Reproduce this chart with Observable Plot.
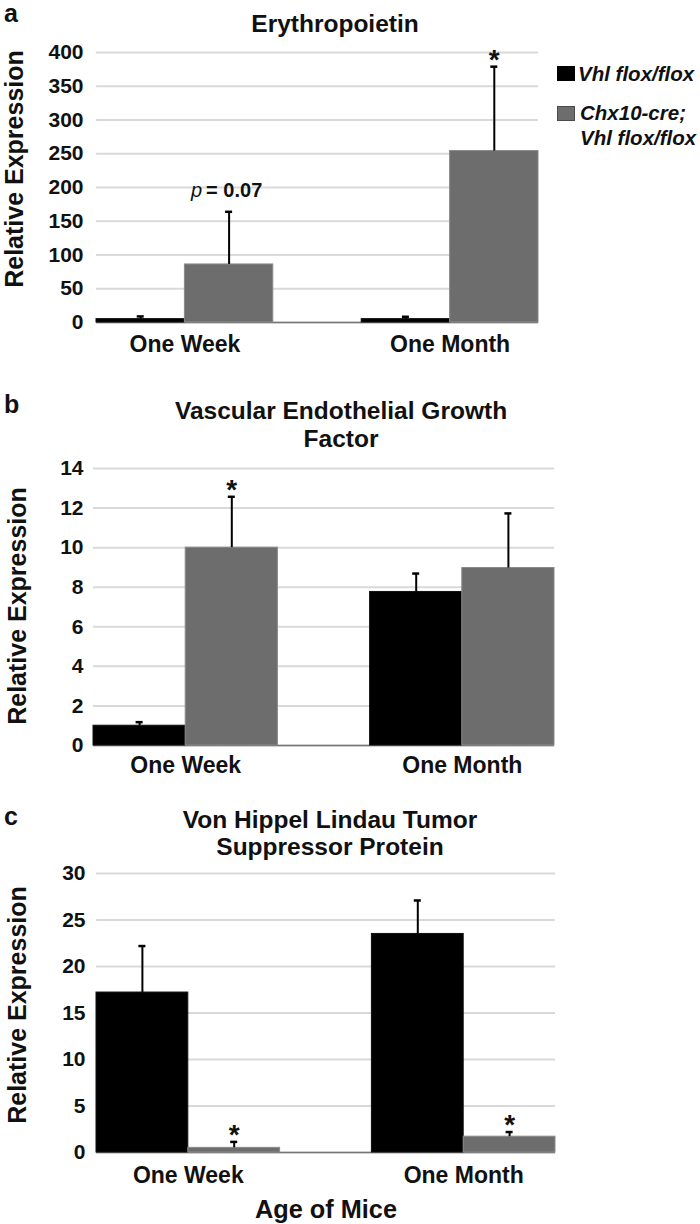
<!DOCTYPE html>
<html>
<head>
<meta charset="utf-8">
<script src="https://cdn.jsdelivr.net/npm/d3@7"></script>
<script src="https://cdn.jsdelivr.net/npm/@observablehq/plot@0.6"></script>
<style>
  html, body { margin: 0; padding: 0; background: #fff; }
  #wrap { position: relative; width: 700px; height: 1224px; overflow: hidden; font-family: "Liberation Sans", Arial, sans-serif; color: #111; }
  .abs { position: absolute; white-space: nowrap; }
  .panel { position: absolute; left: 0; }
  .letter { font-weight: bold; font-size: 25px; line-height: 1; }
  .title { font-weight: bold; font-size: 24.5px; text-align: center; transform: translateX(-50%); }
  .ylab { font-weight: bold; font-size: 25px; line-height: 1; transform: translate(-50%, -50%) rotate(-90deg); }
  .leg { font-weight: bold; font-style: italic; font-size: 20.5px; line-height: 1; }
  .sw { position: absolute; width: 18px; height: 15px; box-sizing: border-box; }
</style>
</head>
<body>
<div id="wrap"></div>
<script>
// ---------- data ----------
const categories = ["One Week", "One Month"];
const seriesNames = ["Vhl flox/flox", "Chx10-cre; Vhl flox/flox"];

// Panel a: Erythropoietin
const epoVhl = [5, 5];
const epoVhlErr = [4, 3.5];
const epoChx = [86, 254];
const epoChxErr = [78, 125];
const epoChxNotes = ["p = 0.07", "*"];
const epoTicks = [0, 50, 100, 150, 200, 250, 300, 350, 400];

// Panel b: VEGF
const vegfVhl = [1.0, 7.76];
const vegfVhlErr = [0.18, 0.93];
const vegfChx = [10.0, 8.97];
const vegfChxErr = [2.57, 2.76];
const vegfChxNotes = ["*", ""];
const vegfTicks = [0, 2, 4, 6, 8, 10, 12, 14];

// Panel c: VHL protein
const vhlVhl = [17.2, 23.5];
const vhlVhlErr = [5.0, 3.6];
const vhlChx = [0.5, 1.7];
const vhlChxErr = [0.64, 0.5];
const vhlChxNotes = ["*", "*"];
const vhlTicks = [0, 5, 10, 15, 20, 25, 30];

const titles = {
  a: "Erythropoietin",
  b: "Vascular Endothelial Growth\nFactor",
  c: "Von Hippel Lindau Tumor\nSuppressor Protein"
};
const yAxisTitle = "Relative Expression";
const xAxisTitle = "Age of Mice";

// ---------- drawing ----------
const FONT = "'Liberation Sans', Arial, sans-serif";
const wrap = document.getElementById("wrap");

function rows(vals, errs, series, notes) {
  return categories.map((c, i) => ({
    category: c, series, value: vals[i], upper: vals[i] + errs[i], note: notes ? notes[i] : ""
  }));
}

function panel(cfg) {
  const {top, height, mt, mb, ml, mr, ticks, vhl, vhlErr, chx, chxErr, notes, padX, padY, xlab} = cfg;
  const width = 700;
  const innerW = width - ml - mr;
  const bw = innerW * 0.4;          // band width (paddingInner 1/3, paddingOuter 0)
  const half = bw / 2;
  const q = bw / 4;
  const cap = 7;
  const capInset = (bw - cap) / 2;
  const A = rows(vhl, vhlErr, seriesNames[0]);
  const B = rows(chx, chxErr, seriesNames[1], notes);
  const stars = B.filter(d => d.note === "*");
  const pv = B.filter(d => d.note.startsWith("p"));

  const marks = [
    Plot.ruleY(ticks, {stroke: "#d9d9d9", strokeWidth: 2}),
    Plot.ruleY([0], {stroke: "#767676", strokeWidth: 1.6}),
    Plot.barY(A, {x: "category", y: "value", fill: "#000", stroke: "#111", strokeWidth: 1, insetRight: half}),
    Plot.barY(B, {x: "category", y: "value", fill: "#6d6d6d", stroke: "#8a8a8a", strokeWidth: 1, insetLeft: half}),
    Plot.ruleX(A, {x: "category", y1: "value", y2: "upper", dx: -q, stroke: "#000", strokeWidth: 2}),
    Plot.ruleX(B, {x: "category", y1: "value", y2: "upper", dx: q, stroke: "#000", strokeWidth: 2}),
    Plot.tickY(A, {x: "category", y: "upper", dx: -q, insetLeft: capInset, insetRight: capInset, stroke: "#000", strokeWidth: 2.5}),
    Plot.tickY(B, {x: "category", y: "upper", dx: q, insetLeft: capInset, insetRight: capInset, stroke: "#000", strokeWidth: 2.5}),
    Plot.text(stars, {x: "category", y: "upper", text: "note", dx: q, dy: 2, lineAnchor: "bottom", fontSize: 28, fontWeight: "bold", fill: "#111"}),
    Plot.text(pv, {x: "category", y: "upper", text: () => "p", dx: q - 27, dy: -15, lineAnchor: "bottom", textAnchor: "end", fontSize: 20, fontStyle: "italic", fontWeight: "normal", fill: "#111"}),
    Plot.text(pv, {x: "category", y: "upper", text: d => d.note.replace(/^p\s*/, ""), dx: q - 23, dy: -15, lineAnchor: "bottom", textAnchor: "start", fontSize: 20, fontWeight: "bold", fill: "#111"}),
    Plot.axisY({ticks, tickSize: 0, tickPadding: padY, fontSize: 21, fontWeight: "bold", fill: "#111", label: null}),
    Plot.axisX({tickSize: 0, tickPadding: padX, fontSize: 23, fontWeight: "bold", fill: "#111", label: null})
  ];
  if (xlab) {
    marks.push(Plot.text([xlab], {frameAnchor: "bottom", dy: 48, lineAnchor: "top", fontSize: 25.3, fontWeight: "bold", fill: "#111"}));
  }
  const chart = Plot.plot({
    width, height,
    marginTop: mt, marginBottom: mb, marginLeft: ml, marginRight: mr,
    style: {background: "transparent", fontFamily: FONT, fontWeight: "bold", overflow: "visible"},
    x: {type: "band", domain: categories, paddingInner: 1 / 3, paddingOuter: 0, round: false},
    y: {domain: [ticks[0], ticks[ticks.length - 1]], nice: false},
    marks
  });
  chart.classList.add("panel");
  chart.style.top = top + "px";
  wrap.appendChild(chart);
}

panel({top: 0, height: 360, mt: 52, mb: 38, ml: 96, mr: 162, ticks: epoTicks,
  vhl: epoVhl, vhlErr: epoVhlErr, chx: epoChx, chxErr: epoChxErr, notes: epoChxNotes, padX: 13, padY: 13});
panel({top: 380, height: 405, mt: 88, mb: 40, ml: 93, mr: 146, ticks: vegfTicks,
  vhl: vegfVhl, vhlErr: vegfVhlErr, chx: vegfChx, chxErr: vegfChxErr, notes: vegfChxNotes, padX: 11, padY: 10});
panel({top: 800, height: 424, mt: 73, mb: 72, ml: 96, mr: 145, ticks: vhlTicks,
  vhl: vhlVhl, vhlErr: vhlVhlErr, chx: vhlChx, chxErr: vhlChxErr, notes: vhlChxNotes, padX: 14, padY: 11, xlab: xAxisTitle});

// ---------- overlay texts ----------
function addDiv(cls, text, css) {
  const d = document.createElement("div");
  d.className = "abs " + cls;
  d.textContent = text;
  Object.assign(d.style, css);
  wrap.appendChild(d);
  return d;
}
// panel letters
addDiv("letter", "a", {left: "4px", top: "1px"});
addDiv("letter", "b", {left: "4px", top: "392px"});
addDiv("letter", "c", {left: "4px", top: "804px"});
// titles
addDiv("title", titles.a, {left: "335px", top: "10px", lineHeight: "28px"});
addDiv("title", titles.b, {left: "341px", top: "397px", lineHeight: "28px", whiteSpace: "pre"});
addDiv("title", titles.c, {left: "330px", top: "806px", lineHeight: "27px", whiteSpace: "pre"});
// y-axis titles
addDiv("ylab", yAxisTitle, {left: "14px", top: "169px"});
addDiv("ylab", yAxisTitle, {left: "16.5px", top: "606px"});
addDiv("ylab", yAxisTitle, {left: "16.5px", top: "1005px"});
// legend
const sw1 = document.createElement("div"); sw1.className = "sw";
Object.assign(sw1.style, {left: "557px", top: "66px", background: "#000"}); wrap.appendChild(sw1);
const sw2 = document.createElement("div"); sw2.className = "sw";
Object.assign(sw2.style, {left: "557px", top: "106px", background: "#6d6d6d", border: "1px solid #4a4a4a"}); wrap.appendChild(sw2);
addDiv("leg", seriesNames[0], {left: "578px", top: "64px"});
const [l2a, l2b] = seriesNames[1].split("; ");
addDiv("leg", l2a + ";", {left: "580px", top: "103px"});
addDiv("leg", l2b, {left: "580px", top: "128px"});
</script>
</body>
</html>
